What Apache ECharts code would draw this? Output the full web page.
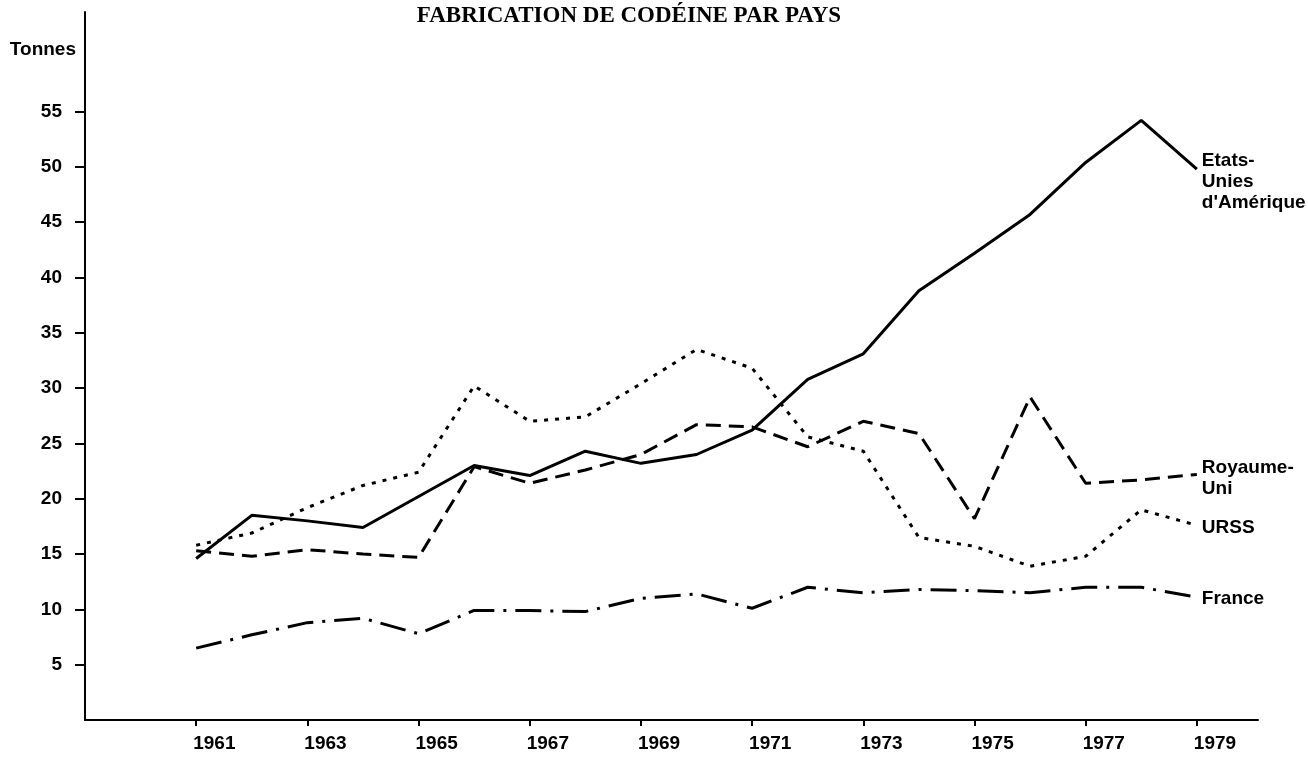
<!DOCTYPE html>
<html>
<head>
<meta charset="utf-8">
<script src="https://cdn.jsdelivr.net/npm/echarts@6/dist/echarts.min.js"></script>
<style>
  html, body { margin: 0; padding: 0; background: #fff; }
  #main { width: 1308px; height: 758px; }
</style>
</head>
<body>
<div id="main"></div>
<script>
var years = [1961,1962,1963,1964,1965,1966,1967,1968,1969,1970,1971,1972,1973,1974,1975,1976,1977,1978,1979];
var usa    = [14.6,18.5,18.0,17.4,20.2,23.0,22.1,24.3,23.2,24.0,26.2,30.8,33.1,38.8,42.2,45.7,50.4,54.2,49.8];
var uk     = [15.3,14.8,15.4,15.0,14.7,22.9,21.4,22.6,24.0,26.7,26.5,24.7,27.0,25.9,18.2,29.2,21.4,21.7,22.2];
var urss   = [15.8,16.9,19.2,21.2,22.4,30.2,27.0,27.4,30.4,33.5,31.8,25.6,24.3,16.5,15.7,13.9,14.8,19.0,17.6];
var france = [6.5,7.7,8.8,9.2,7.8,9.9,9.9,9.8,11.0,11.4,10.1,12.0,11.5,11.8,11.7,11.5,12.0,12.0,11.1];
var xTicks = [1961,1963,1965,1967,1969,1971,1973,1975,1977,1979];
var yTicks = [5,10,15,20,25,30,35,40,45,50,55];

var myChart = echarts.init(document.getElementById('main'));
var labelFont = 'Liberation Sans, Arial, sans-serif';

function pairs(vals) {
  return years.map(function (y, i) { return [y, vals[i]]; });
}

// one black line per country, name written at its end
function line(name, vals, type, offY) {
  return {
    name: name,
    type: 'line',
    data: pairs(vals),
    showSymbol: false,
    smooth: false,
    silent: true,
    lineStyle: { color: '#000', width: 3, type: type, cap: 'butt' },
    endLabel: {
      show: true,
      formatter: function (p) { return p.seriesName; },
      color: '#000',
      fontFamily: labelFont,
      fontWeight: 'bold',
      fontSize: 19,
      lineHeight: 21,
      align: 'left',
      distance: 5,
      offset: [0, offY || 0]
    }
  };
}

var option = {
  backgroundColor: '#fff',
  animation: false,
  graphic: [
    {
      type: 'text', x: 629, y: 16,
      style: {
        text: 'FABRICATION DE CODÉINE PAR PAYS',
        fontFamily: 'Liberation Serif, Times New Roman, serif',
        fontWeight: 'bold', fontSize: 23, fill: '#000',
        textAlign: 'center', textVerticalAlign: 'middle'
      }
    },
    {
      type: 'text', x: 76, y: 50,
      style: {
        text: 'Tonnes',
        fontFamily: labelFont, fontWeight: 'bold', fontSize: 19, fill: '#000',
        textAlign: 'right', textVerticalAlign: 'middle'
      }
    }
  ],
  grid: { left: 85, right: 50, top: 12, bottom: 38 },
  xAxis: {
    type: 'value',
    min: 1959,
    max: 1980.1,
    splitLine: { show: false },
    axisLine: { show: true, lineStyle: { color: '#000', width: 2 } },
    axisTick: { show: true, customValues: xTicks, length: 6, lineStyle: { color: '#000', width: 2 } },
    axisLabel: {
      customValues: xTicks,
      align: 'left',
      padding: [0, 0, 0, -3],
      margin: 14,
      color: '#000',
      fontFamily: labelFont,
      fontWeight: 'bold',
      fontSize: 19,
      formatter: function (v) { return String(v); }
    }
  },
  yAxis: {
    type: 'value',
    min: 0,
    max: 64,
    splitLine: { show: false },
    axisLine: { show: true, lineStyle: { color: '#000', width: 2 } },
    axisTick: { show: true, customValues: yTicks, length: 10, lineStyle: { color: '#000', width: 2 } },
    axisLabel: {
      customValues: yTicks,
      margin: 23,
      color: '#000',
      fontFamily: labelFont,
      fontWeight: 'bold',
      fontSize: 19
    }
  },
  series: [
    line('Etats-\nUnies\nd\'Amérique', usa, 'solid', 13),
    line('Royaume-\nUni', uk, [15, 8], 4),
    line('URSS', urss, [4, 7], 2),
    line('France', france, [26, 9, 3, 9], 2)
  ]
};
myChart.setOption(option);
</script>
</body>
</html>
